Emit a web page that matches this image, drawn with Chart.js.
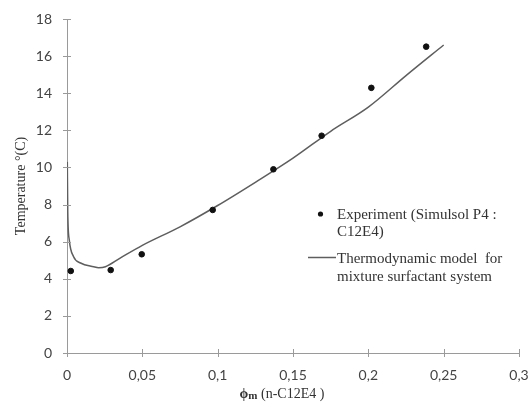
<!DOCTYPE html>
<html>
<head>
<meta charset="utf-8">
<script src="https://cdn.jsdelivr.net/npm/chart.js@4/dist/chart.umd.min.js"></script>
<style>
  html, body { margin: 0; padding: 0; background: #fff; }
  #wrap { width: 530px; height: 409px; }
</style>
</head>
<body>
<div id="wrap"><canvas id="phase-chart"></canvas></div>
<script>
// experiment points (Simulsol P4 : C12E4)
const expPhi = [0.0025, 0.029, 0.0496, 0.0967, 0.137, 0.169, 0.202, 0.2384];
const expTemp = [4.42, 4.47, 5.32, 7.71, 9.90, 11.71, 14.29, 16.51];

// thermodynamic model curve
const modelPhi = [0.0002, 0.0005, 0.0015, 0.0043, 0.009, 0.0177, 0.021, 0.0255, 0.035, 0.05, 0.075, 0.1, 0.125, 0.15, 0.175, 0.2, 0.225, 0.25];
const modelTemp = [10.3, 7.6, 6.1, 5.2, 4.85, 4.65, 4.6, 4.65, 5.1, 5.8, 6.8, 7.95, 9.2, 10.5, 11.95, 13.25, 14.95, 16.6];

const legendLines = [
    ["Experiment (Simulsol P4 :", "C12E4)"],
    ["Thermodynamic model  for", "mixture surfactant system"]
];

const axisGrey = '#9a9a9a';
const serif = '"Liberation Serif", "DejaVu Serif", serif';
const sans = 'Lato, "Open Sans", sans-serif';

const toPoints = (xs, ys) => xs.map((x, i) => ({ x: x, y: ys[i] }));

// little ticks crossing both sides of the axis lines
const crossTicks = {
    id: 'crossTicks',
    afterDraw(chart) {
        const ctx = chart.ctx;
        const xs = chart.scales.x, ys = chart.scales.y;
        ctx.save();
        ctx.strokeStyle = axisGrey;
        ctx.lineWidth = 1;
        ctx.beginPath();
        xs.ticks.forEach(t => {
            const px = Math.round(xs.getPixelForValue(t.value)) + 0.5;
            ctx.moveTo(px, ys.bottom - 4);
            ctx.lineTo(px, ys.bottom + 4);
        });
        ys.ticks.forEach(t => {
            const py = Math.round(ys.getPixelForValue(t.value)) + 0.5;
            ctx.moveTo(xs.left - 4, py);
            ctx.lineTo(xs.left + 4, py);
        });
        ctx.stroke();
        ctx.restore();
    }
};

// legend and x title drawn by hand (wrapped labels, bold phi_m)
const sideLegend = {
    id: 'sideLegend',
    afterDraw(chart) {
        const ctx = chart.ctx;
        const sets = chart.data.datasets;
        ctx.save();
        ctx.font = '15px ' + serif;
        ctx.textBaseline = 'middle';
        const textX = 337;
        // experiment
        ctx.beginPath();
        ctx.arc(320.5, 214, 2.6, 0, Math.PI * 2);
        ctx.fillStyle = sets[0].backgroundColor;
        ctx.fill();
        ctx.fillStyle = '#333';
        legendLines[0].forEach((s, i) => ctx.fillText(s, textX, 215 + i * 17));
        // model
        ctx.beginPath();
        ctx.moveTo(308, 257.5);
        ctx.lineTo(336, 257.5);
        ctx.strokeStyle = sets[1].borderColor;
        ctx.lineWidth = 1.5;
        ctx.stroke();
        legendLines[1].forEach((s, i) => ctx.fillText(s, textX, 259 + i * 18));

        // x axis title
        const cx = 282, cy = 393;
        const partA = 'ϕ', partB = 'm', partC = ' (n-C12E4 )';
        const fA = 'bold 14px ' + serif, fB = 'bold 11px ' + serif, fC = '14px ' + serif;
        ctx.font = fA; const wA = ctx.measureText(partA).width;
        ctx.font = fB; const wB = ctx.measureText(partB).width;
        ctx.font = fC; const wC = ctx.measureText(partC).width;
        let x0 = cx - (wA + wB + wC) / 2;
        ctx.textBaseline = 'alphabetic';
        ctx.fillStyle = '#333';
        ctx.font = fA; ctx.fillText(partA, x0, cy + 5);
        ctx.font = fB; ctx.fillText(partB, x0 + wA, cy + 6);
        ctx.font = fC; ctx.fillText(partC, x0 + wA + wB, cy + 5);
        ctx.restore();
    }
};

const phaseChart = () => {
    const option = {
        type: 'scatter',
        data: {
            datasets: [{
                label: legendLines[0].join(' '),
                data: toPoints(expPhi, expTemp),
                backgroundColor: '#111',
                borderColor: '#111',
                pointRadius: 2.8,
                showLine: false,
            }, {
                label: legendLines[1].join(' '),
                data: toPoints(modelPhi, modelTemp),
                borderColor: '#5e5e5e',
                borderWidth: 1.5,
                pointRadius: 0,
                showLine: true,
                cubicInterpolationMode: 'monotone',
            }]
        },
        options: {
            responsive: true,
            maintainAspectRatio: false,
            animation: false,
            layout: { padding: { left: 13, right: 11, top: 19, bottom: 0 } },
            plugins: { legend: { display: false }, tooltip: { enabled: false } },
            scales: {
                x: {
                    type: 'linear',
                    min: 0, max: 0.3,
                    grid: { display: false, drawTicks: false },
                    border: { display: true, color: axisGrey, width: 1 },
                    afterFit: s => { s.paddingLeft = 0; s.paddingRight = 0; s.height = 56; },
                    ticks: {
                        stepSize: 0.05,
                        padding: 14,
                        color: '#444',
                        font: { family: sans, size: 14 },
                        callback: v => String(Math.round(v * 100) / 100).replace('.', ',')
                    }
                },
                y: {
                    min: 0, max: 18,
                    grid: { display: false, drawTicks: false },
                    border: { display: true, color: axisGrey, width: 1 },
                    afterFit: s => { s.paddingTop = 0; s.paddingBottom = 0; s.width = 54; },
                    ticks: {
                        stepSize: 2,
                        padding: 15,
                        color: '#444',
                        font: { family: sans, size: 14 }
                    },
                    title: {
                        display: true,
                        text: 'Temperature °(C)',
                        color: '#333',
                        font: { family: serif, size: 14 },
                        padding: { top: 0, bottom: 0 }
                    }
                }
            }
        },
        plugins: [crossTicks, sideLegend]
    };
    const canvas = document.getElementById('phase-chart');
    new Chart(canvas, option);
};

phaseChart();
</script>
</body>
</html>
